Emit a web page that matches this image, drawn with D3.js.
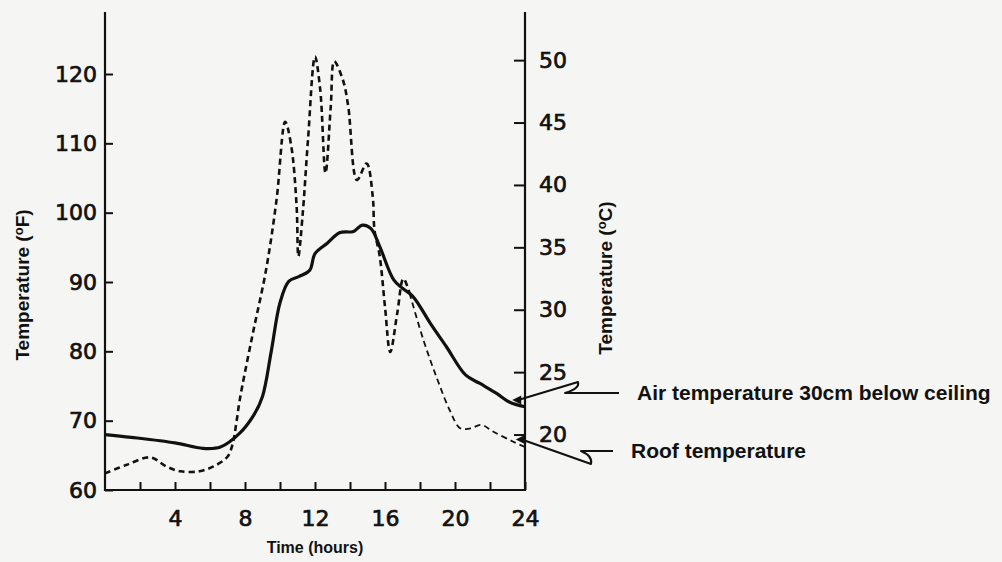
<!DOCTYPE html>
<html>
<head>
<meta charset="utf-8">
<script src="https://cdn.jsdelivr.net/npm/d3@7"></script>
<style>
  html, body { margin: 0; padding: 0; background: #f5f5f3; }
  svg { display: block; }
  .num { font-family: "DejaVu Sans", sans-serif; font-size: 22px; fill: #111; stroke: #111; stroke-width: 0.7px; }
  .ttl { font-family: "Liberation Sans", Arial, sans-serif; font-weight: bold; font-size: 19px; fill: #111; }
  .lgd { font-family: "Liberation Sans", Arial, sans-serif; font-weight: bold; font-size: 21px; fill: #111; }
</style>
</head>
<body>
<svg id="chart" width="1002" height="562"></svg>
<script>
// Hourly record of air temperature 30 cm below the ceiling (solid)
const airHours = [0, 1.5, 4, 5.6, 6.6, 7.7, 8.5, 9, 9.5, 10, 10.5, 11.1, 11.7, 12.0, 12.7, 13.4, 14.2, 14.7, 15.2, 15.7, 16.5, 17.0, 17.6, 18.6, 19.5, 20.6, 21.4, 22.4, 23.1, 24];
const airTempF = [68.0, 67.6, 66.8, 66.0, 66.2, 68.2, 70.8, 73.5, 80, 87, 90.1, 90.8, 91.7, 94.1, 95.6, 97.1, 97.3, 98.2, 97.7, 95.1, 90.3, 89.1, 87.9, 84.0, 80.7, 76.6, 75.4, 73.9, 72.7, 72.0];

// Roof surface temperature (dashed)
const roofHours = [0, 1.2, 2.6, 3.5, 4.3, 5.4, 6.2, 7.0, 7.3, 7.5, 7.7, 8.4, 9.2, 9.8, 10.3, 10.65, 10.95, 11.05, 11.3, 11.6, 12.0, 12.3, 12.6, 12.9, 13.1, 13.6, 13.9, 14.4, 14.95, 15.3, 15.4, 15.7, 16.0, 16.3, 16.7, 17.05, 17.4, 18.2, 19.0, 19.7, 20.3, 20.9, 21.5, 22.2, 23.3, 24];
const roofTempF = [62.4, 63.6, 64.7, 63.4, 62.7, 62.7, 63.4, 64.8, 66.7, 69.6, 73, 82, 91.7, 101.8, 113.1, 109.5, 100.9, 93.7, 99.9, 110.5, 122.5, 117.7, 105.7, 115.3, 121.8, 119.1, 115.3, 104.7, 107.1, 102.3, 97.5, 93.7, 86.4, 79.9, 85.5, 90.5, 88.4, 81.6, 75.9, 71.5, 68.9, 68.9, 69.4, 68.4, 67.0, 66.2];

// Axis ticks and labels
const fTicks = [60, 70, 80, 90, 100, 110, 120];
const cTicks = [20, 25, 30, 35, 40, 45, 50];
const hourTicks = [2, 4, 6, 8, 10, 12, 14, 16, 18, 20, 22, 24];
const hourLabels = [4, 8, 12, 16, 20, 24];
const seriesNames = ["Air temperature 30cm below ceiling", "Roof temperature"];

const svg = d3.select("#chart");
const ink = "#111";

const x = d3.scaleLinear().domain([0, 24]).range([105, 525]);
const yF = d3.scaleLinear().domain([60, 120]).range([490, 74]);
// Celsius scale shares the same vertical mapping through the F/C conversion
const toF = c => c * 9 / 5 + 32;
const yC = d3.scaleLinear().domain([20, 50]).range([yF(toF(20)), yF(toF(50))]);

const axisTop = 12;

// Frame: left, right and bottom axis lines
svg.append("path")
  .attr("d", `M${x(0)},${axisTop}V${yF(60)}H${x(24)}V${axisTop}`)
  .attr("fill", "none").attr("stroke", ink).attr("stroke-width", 2.2);

function styleAxis(g) {
  g.select(".domain").remove();
  g.selectAll(".tick line").attr("stroke", ink).attr("stroke-width", 2);
  g.selectAll(".tick text").attr("class", "num").attr("font-size", null).attr("font-family", null);
}

// Left (°F) axis
svg.append("g").attr("transform", `translate(${x(0)},0)`)
  .call(d3.axisLeft(yF).tickValues(fTicks).tickSizeInner(-8).tickSizeOuter(0).tickPadding(8).tickFormat(d3.format("d")))
  .call(styleAxis);

// Right (°C) axis
svg.append("g").attr("transform", `translate(${x(24)},0)`)
  .call(d3.axisRight(yC).tickValues(cTicks).tickSizeInner(-11).tickSizeOuter(0).tickPadding(14).tickFormat(d3.format("d")))
  .call(styleAxis);

// Bottom (time) axis
svg.append("g").attr("transform", `translate(0,${yF(60)})`)
  .call(d3.axisBottom(x).tickValues(hourTicks).tickSizeInner(-8).tickSizeOuter(0).tickPadding(20)
    .tickFormat(d => hourLabels.includes(d) ? d : ""))
  .call(styleAxis);

// Axis titles
function tempTitle(cx, cy, unit) {
  svg.append("text").attr("class", "ttl").attr("text-anchor", "middle")
    .attr("transform", `translate(${cx},${cy}) rotate(-90)`)
    .call(t => {
      t.append("tspan").text("Temperature  (");
      t.append("tspan").style("font-size", "13px").attr("dy", -6).text("o");
      t.append("tspan").attr("dy", 6).text(unit + ")");
    });
}
tempTitle(29, 285, "F");
tempTitle(612, 278, "C");
svg.append("text").attr("class", "ttl").attr("text-anchor", "middle")
  .style("font-size", "16px").attr("x", 315).attr("y", 553).text("Time  (hours)");

// Curves
const line = d3.line().x(d => x(d[0])).y(d => yF(d[1])).curve(d3.curveCatmullRom.alpha(0.5));
const air = airHours.map((h, i) => [h, airTempF[i]]);
const roof = roofHours.map((h, i) => [h, roofTempF[i]]);

const splitAt = roofHours.indexOf(17.4);
svg.append("path").datum(roof.slice(0, splitAt + 1)).attr("d", line)
  .attr("fill", "none").attr("stroke", ink).attr("stroke-width", 2.6).attr("stroke-dasharray", "6,4");
svg.append("path").datum(roof.slice(splitAt)).attr("d", line)
  .attr("fill", "none").attr("stroke", ink).attr("stroke-width", 1.8).attr("stroke-dasharray", "6,4");

svg.append("path").datum(air).attr("d", line)
  .attr("fill", "none").attr("stroke", ink).attr("stroke-width", 3.2).attr("stroke-linejoin", "round");

// Leader lines with a break mark, pointing at the end of each curve
function leader(h, series, hours, kink, back, textX, textY, name) {
  const i = hours.indexOf(h);
  const ax = x(h) + 3, ay = yF(series[i]) - 2;
  svg.append("path")
    .attr("d", `M${ax},${ay}l9,-4.5l0,9z`)
    .attr("fill", ink);
  const lineY = textY - 7;
  svg.append("path")
    .attr("d", `M${ax + 6},${ay}L${kink[0]},${kink[1]}Q${kink[0] + 2},${kink[1] + (lineY - kink[1]) * 0.6} ${back},${lineY}L${textX - 18},${lineY}`)
    .attr("fill", "none").attr("stroke", ink).attr("stroke-width", 2).attr("stroke-linejoin", "round");
  svg.append("text").attr("class", "lgd").attr("x", textX).attr("y", textY).text(name);
}
leader(23.1, airTempF, airHours, [578, 382], 565, 637, 400, seriesNames[0]);
leader(23.3, roofTempF, roofHours, [591, 464], 581, 631, 458, seriesNames[1]);
</script>
</body>
</html>
